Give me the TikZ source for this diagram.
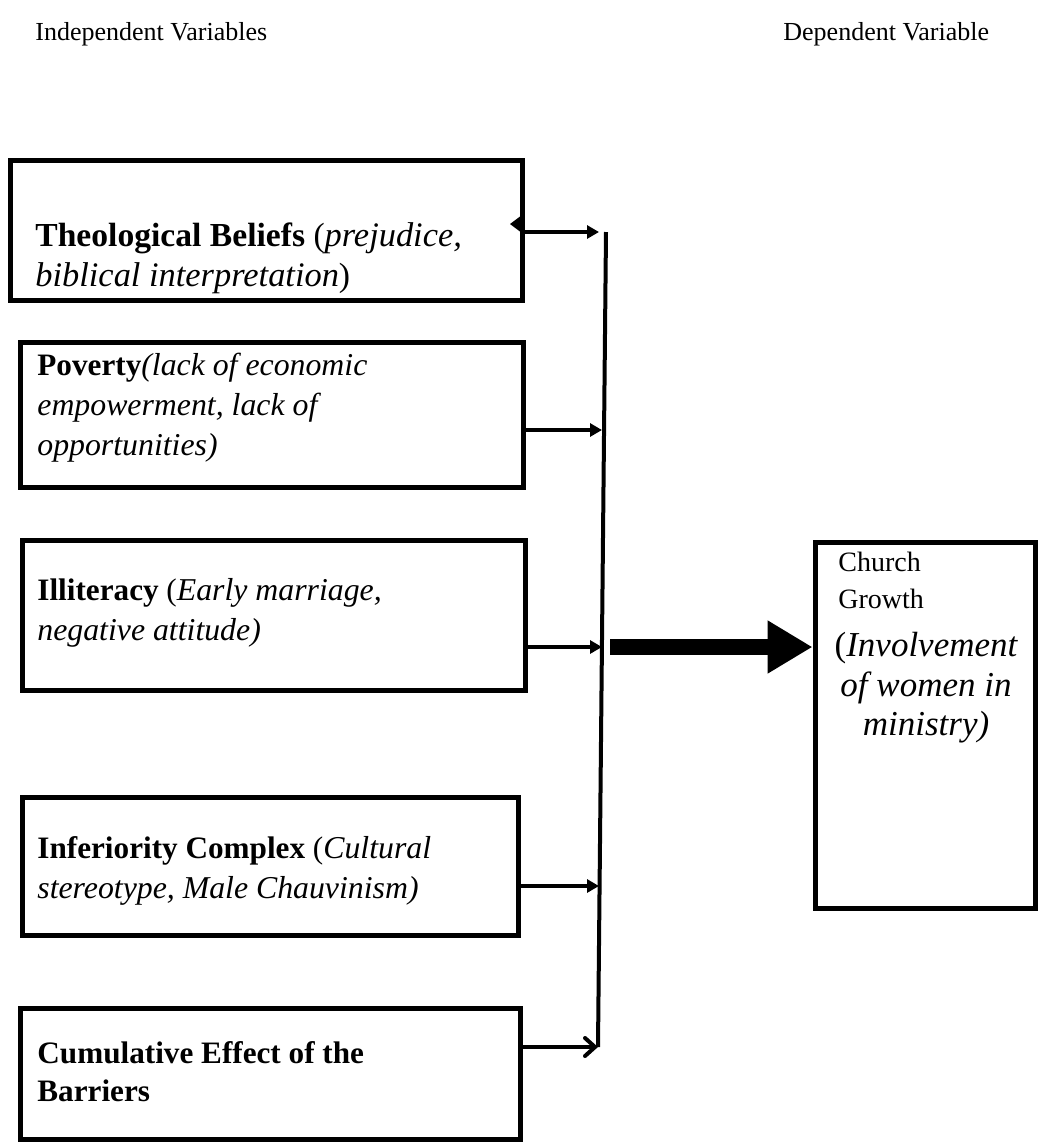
\documentclass[tikz,border=0pt]{standalone}
\usepackage{fontspec}
\setmainfont{Liberation Serif}
\usetikzlibrary{arrows.meta}
\tikzset{
  box/.style={draw, line width=2.5pt, rectangle, inner sep=0pt},
  htxt/.style={anchor=base west, inner sep=0pt, font=\fontsize{13pt}{15pt}\selectfont},
  gtxt/.style={anchor=base west, inner sep=0pt, font=\fontsize{14pt}{16pt}\selectfont},
  txt/.style={anchor=base west, inner sep=0pt, font=\fontsize{15.6pt}{19pt}\selectfont},
  bigtxt/.style={anchor=base west, inner sep=0pt, font=\fontsize{16.8pt}{19pt}\selectfont},
  ctxt/.style={anchor=base, inner sep=0pt, font=\fontsize{17.5pt}{20pt}\selectfont\itshape},
  link/.style={line width=2pt, -{Triangle[length=6pt,width=6.5pt]}},
  openlink/.style={line width=2pt, line cap=round, -{Straight Barb[length=5pt,width=9pt,line cap=round]}},
  bus/.style={line width=2pt},
  bigarrow/.style={line width=8pt, -{Triangle[length=22.5pt,width=25pt]}}
}
\newcommand{\myit}[1]{\textit{\fontsize{15.9pt}{19pt}\selectfont #1}}
\newcommand{\mybigit}[1]{\textit{\fontsize{17.2pt}{19pt}\selectfont #1}}
\begin{document}
\begin{tikzpicture}[x=0.5pt,y=-0.5pt]
\useasboundingbox (0,0) rectangle (1039,1142);
% headers
\node[htxt] (hind) at (35,40) {Independent Variables};
\node[htxt] (hdep) at (783,40) {Dependent Variable};
% boxes
\node[box, minimum width=256pt, minimum height=70pt] (b1) at (266,230) {};
\node[box, minimum width=251.5pt, minimum height=72.5pt] (b2) at (271.5,414.5) {};
\node[box, minimum width=251.5pt, minimum height=75pt] (b3) at (273.5,615) {};
\node[box, minimum width=248pt, minimum height=69pt] (b4) at (270,866) {};
\node[box, minimum width=250pt, minimum height=65.5pt] (b5) at (270,1073.5) {};
\node[box, minimum width=110pt, minimum height=183pt] (gr) at (925,725) {};
% texts
\node[bigtxt] (t1a) at (35,246) {\textbf{Theological Beliefs} (\mybigit{prejudice,}};
\node[bigtxt] (t1b) at (35,286) {\mybigit{biblical interpretation}) };
\node[txt] (t2a) at (37,375) {\textbf{Poverty}\myit{(lack of economic}};
\node[txt] (t2b) at (37,415) {\myit{empowerment, lack of}};
\node[txt] (t2c) at (37,455) {\myit{opportunities)}};
\node[txt] (t3a) at (37,600) {\textbf{Illiteracy} (\myit{Early marriage,}};
\node[txt] (t3b) at (37,640) {\myit{negative attitude)}};
\node[txt] (t4a) at (37,858) {\textbf{Inferiority Complex} (\myit{Cultural}};
\node[txt] (t4b) at (37,898) {\myit{stereotype, Male Chauvinism)}};
\node[txt] (t5a) at (37,1063) {\textbf{Cumulative Effect of the}};
\node[txt] (t5b) at (37,1101) {\textbf{Barriers}};
\node[gtxt] (g1) at (838,571) {Church};
\node[gtxt] (g2) at (838,608) {Growth};
\node[ctxt] (g3) at (926,656) {\upshape(\itshape Involvement};
\node[ctxt] (g4) at (926,696) {of women in};
\node[ctxt] (g5) at (926,735) {ministry)};
% vertical bus
\coordinate (vtop) at (606,232);
\coordinate (vbot) at (598,1047);
\draw[bus] (vtop) -- (vbot);
\coordinate (e1) at (599,232);
\coordinate (e2) at (602,430);
\coordinate (e3) at (602,647);
\coordinate (e4) at (599,886);
\coordinate (e5) at (598,1047);
\coordinate (s3) at (610,647);
% arrows
\draw[link] (b1.east |- e1) -- (e1);
\draw[link] (b2.east |- e2) -- (e2);
\draw[link] (b3.east |- e3) -- (e3);
\draw[link] (b4.east |- e4) -- (e4);
\draw[openlink] (b5.east |- e5) -- (e5);
\draw[bigarrow] (s3) -- (gr.west |- s3);
% small stray arrow tip at box 1
\fill (510,224) -- (522,215) -- (522,233) -- cycle;
\end{tikzpicture}
\end{document}
